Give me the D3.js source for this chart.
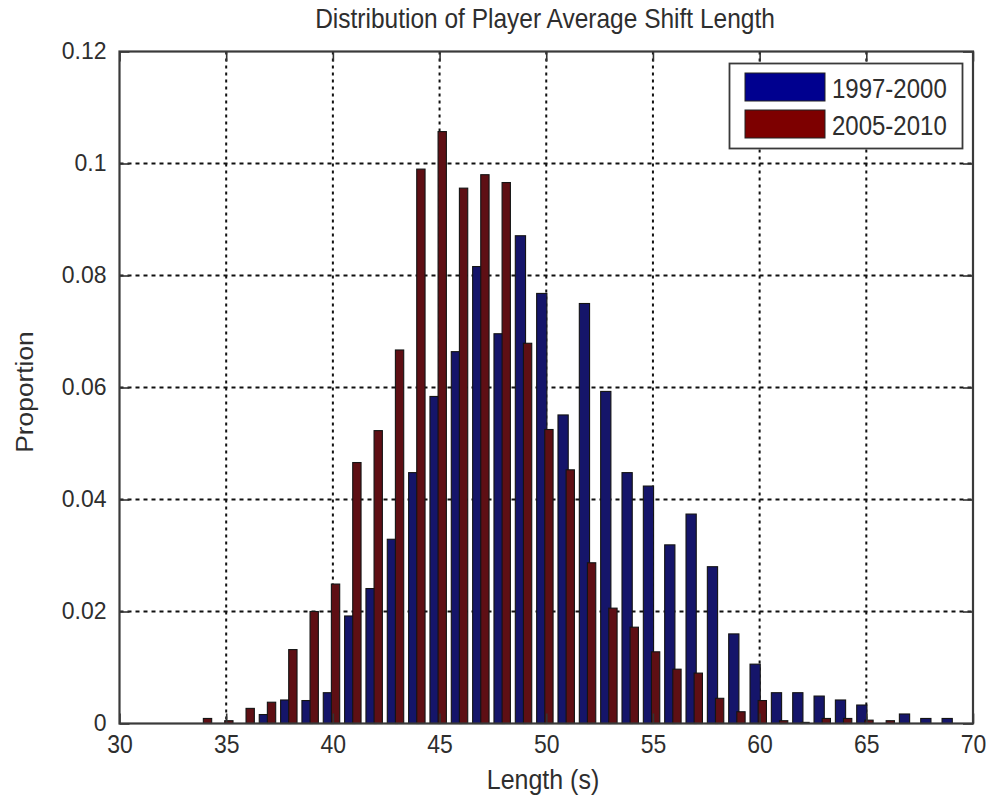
<!DOCTYPE html>
<html>
<head>
<meta charset="utf-8">
<script src="https://cdn.jsdelivr.net/npm/d3@7"></script>
<style>
  body { margin: 0; background: #fff; }
  text { font-family: "Liberation Sans", Arial, sans-serif; fill: #2e2e2e; }
</style>
</head>
<body>
<svg id="chart" width="990" height="797"></svg>
<script>
var width = 990,
    height = 797,
    plotLeft = 119.5, plotRight = 973, plotTop = 51.5, plotBottom = 723.5,
    stretch = 1.12;

// shift length bins (s)
var lengths = d3.range(34, 70);
var series = ["1997-2000", "2005-2010"];
var colors = ["#15156a", "#5e0f14"];
var early = [0, 0, 0, 0.0016, 0.0042, 0.0041, 0.0055, 0.0192, 0.0241, 0.0329, 0.0448, 0.0584,
  0.0664, 0.0816, 0.0696, 0.0871, 0.0768, 0.0551, 0.0750, 0.0593, 0.0448, 0.0424, 0.0319, 0.0374,
  0.0280, 0.0160, 0.0106, 0.0055, 0.0055, 0.0049, 0.0042, 0.0033, 0, 0.0017, 0.0009, 0.0009];
var late = [0.0009, 0.0005, 0.0027, 0.0038, 0.0132, 0.0200, 0.0249, 0.0466, 0.0523, 0.0667, 0.0990, 0.1057,
  0.0956, 0.0980, 0.0966, 0.0679, 0.0525, 0.0453, 0.0287, 0.0206, 0.0172, 0.0128, 0.0097, 0.0090,
  0.0045, 0.0021, 0.0041, 0.0005, 0.0002, 0.0009, 0.0009, 0.0006, 0.0005, 0, 0, 0];
var xTicks = [30, 35, 40, 45, 50, 55, 60, 65, 70];
var yTicks = [0, 0.02, 0.04, 0.06, 0.08, 0.1, 0.12];

var svg = d3.select("#chart");

var x = d3.scaleLinear().domain([30, 70]).range([plotLeft, plotRight]);
var y = d3.scaleLinear().domain([0, 0.12]).range([plotBottom, plotTop]);

// grid
svg.append("g").selectAll("line")
    .data(xTicks.slice(1, -1))
  .enter().append("line")
    .attr("x1", x).attr("x2", x)
    .attr("y1", plotTop).attr("y2", plotBottom)
    .attr("stroke", "#111").attr("stroke-width", 2)
    .attr("stroke-dasharray", "3,4");
svg.append("g").selectAll("line")
    .data(yTicks.slice(1, -1))
  .enter().append("line")
    .attr("y1", y).attr("y2", y)
    .attr("x1", plotLeft).attr("x2", plotRight)
    .attr("stroke", "#111").attr("stroke-width", 2)
    .attr("stroke-dasharray", "4,4");

// bars: blue slightly left, red overlapping on the right
var bars = svg.append("g");
bars.selectAll("rect.early")
    .data(lengths)
  .enter().append("rect")
    .attr("class", "early")
    .attr("x", function(d) { return x(d - 0.45); })
    .attr("width", function(d) { return x(d + 0.03) - x(d - 0.45); })
    .attr("y", function(d, i) { return y(early[i]); })
    .attr("height", function(d, i) { return y(0) - y(early[i]); })
    .attr("fill", colors[0])
    .attr("stroke", "#141414").attr("stroke-width", 1.1);
bars.selectAll("rect.late")
    .data(lengths)
  .enter().append("rect")
    .attr("class", "late")
    .attr("x", function(d) { return x(d - 0.07); })
    .attr("width", function(d) { return x(d + 0.32) - x(d - 0.07); })
    .attr("y", function(d, i) { return y(late[i]); })
    .attr("height", function(d, i) { return y(0) - y(late[i]); })
    .attr("fill", colors[1])
    .attr("stroke", "#141414").attr("stroke-width", 1.1);

// axes with inward ticks on all four sides
function styleAxis(g) {
  g.select(".domain").remove();
  g.selectAll(".tick line").attr("stroke", "#333").attr("stroke-width", 1.6);
  g.selectAll("text").style("font-size", "23px").attr("fill", "#2e2e2e");
}
svg.append("g")
    .attr("transform", "translate(0," + plotBottom + ")")
    .call(d3.axisBottom(x).tickValues(xTicks).tickSize(-10).tickPadding(10))
    .call(styleAxis)
  .selectAll("text")
    .attr("transform", "scale(1," + stretch + ")");
svg.append("g")
    .attr("transform", "translate(0," + plotTop + ")")
    .call(d3.axisTop(x).tickValues(xTicks).tickSize(-10).tickFormat(""))
    .call(styleAxis);
svg.append("g")
    .attr("transform", "translate(" + plotLeft + ",0)")
    .call(d3.axisLeft(y).tickValues(yTicks).tickSize(-10).tickPadding(13)
      .tickFormat(function(d) { return String(+d.toFixed(2)); }))
    .call(styleAxis);
svg.append("g")
    .attr("transform", "translate(" + plotRight + ",0)")
    .call(d3.axisRight(y).tickValues(yTicks).tickSize(-10).tickFormat(""))
    .call(styleAxis);

svg.append("rect")
    .attr("x", plotLeft).attr("y", plotTop)
    .attr("width", plotRight - plotLeft).attr("height", plotBottom - plotTop)
    .attr("fill", "none").attr("stroke", "#3a3a3a").attr("stroke-width", 2.2);

// titles
svg.append("text")
    .attr("transform", "translate(" + 545 + ",28) scale(1," + stretch + ")")
    .attr("text-anchor", "middle")
    .style("font-size", "24.5px")
    .text("Distribution of Player Average Shift Length");
svg.append("text")
    .attr("transform", "translate(" + 543 + ",789) scale(1," + stretch + ")")
    .attr("text-anchor", "middle")
    .style("font-size", "25px")
    .text("Length (s)");
svg.append("text")
    .attr("transform", "translate(33,392) rotate(-90) scale(" + stretch + ",1)")
    .attr("text-anchor", "middle")
    .style("font-size", "23.5px")
    .text("Proportion");

// legend
var legend = svg.append("g");
legend.append("rect")
    .attr("x", 729.5).attr("y", 63.5).attr("width", 233).attr("height", 85)
    .attr("fill", "#fff").attr("stroke", "#3a3a3a").attr("stroke-width", 1.8);
var item = legend.selectAll("g.item")
    .data(series)
  .enter().append("g")
    .attr("class", "item")
    .attr("transform", function(d, i) { return "translate(745," + (73 + i * 37) + ")"; });
item.append("rect")
    .attr("width", 80).attr("height", 28)
    .attr("fill", function(d, i) { return i ? "#7d0000" : "#00008f"; })
    .attr("stroke", "#222").attr("stroke-width", 1);
item.append("text")
    .attr("transform", "translate(87,25) scale(1," + stretch + ")")
    .style("font-size", "24px")
    .text(function(d) { return d; });
</script>
</body>
</html>
